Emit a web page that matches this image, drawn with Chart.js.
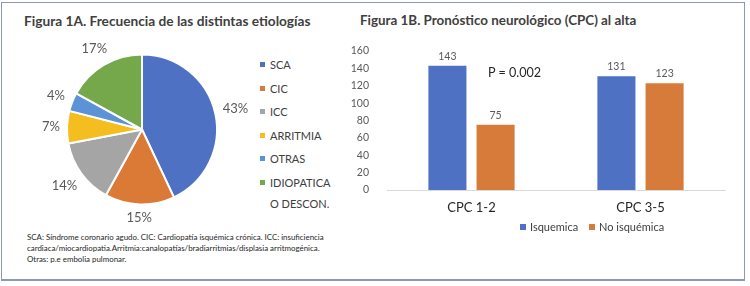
<!DOCTYPE html>
<html><head><meta charset="utf-8">
<script src="https://cdn.jsdelivr.net/npm/chart.js@4/dist/chart.umd.min.js"></script>
<style>
html,body{margin:0;padding:0;background:#fff;}
#wrap{position:relative;width:750px;height:286px;overflow:hidden;font-family:Lato,"Open Sans",sans-serif;}
#frame{position:absolute;left:1px;top:2px;width:744px;height:279px;border:1px solid #8e97b3;border-bottom:2px solid #8e97b3;box-sizing:border-box;}
.title{position:absolute;font-weight:bold;color:#404040;white-space:nowrap;}
#pieCv{position:absolute;left:30px;top:30px;}
#barCv{position:absolute;left:340px;top:30px;}
.leg{position:absolute;font-size:11px;color:#404040;line-height:13px;white-space:nowrap;}
.leg i{position:absolute;width:5px;height:5px;}
#note{position:absolute;left:27px;top:232px;font-size:7.9px;line-height:11px;color:#262626;white-space:nowrap;}
#pval{position:absolute;left:488px;top:65px;font-size:12.6px;color:#262626;white-space:nowrap;}
</style></head><body>
<div id="wrap">
<div id="frame"></div>
<div class="title" style="left:24px;top:12px;font-size:13.7px;">Figura 1A. Frecuencia de las distintas etiologías</div>
<div class="title" style="left:360px;top:12px;font-size:13.4px;">Figura 1B. Pronóstico neurológico (CPC) al alta</div>
<canvas id="pieCv" width="230" height="200"></canvas>
<canvas id="barCv" width="395" height="200"></canvas>
<div id="pieLeg"></div>
<div id="barLeg"></div>
<div id="pval">P = 0.002</div>
<div id="note">SCA: Síndrome coronario agudo. CIC: Cardiopatía isquémica crónica. ICC: insuficiencia<br>cardiaca/miocardiopatia.Arritmia:canalopatías/bradiarritmias/displasia arritmogénica.<br>Otras: p.e embolia pulmonar.</div>
</div>
<script>
// ---- data ----
const etiologyLabels = ["SCA", "CIC", "ICC", "ARRITMIA", "OTRAS", "IDIOPATICA O DESCON."];
const etiologyPercents = [43, 15, 14, 7, 4, 17];
const etiologyColors = ["#4E71C4", "#DA7A36", "#A5A5A5", "#F5BE1F", "#5B93D6", "#74A84A"];

const cpcCategories = ["CPC 1-2", "CPC 3-5"];
const isquemica = [143, 131];
const noIsquemica = [75, 123];
const seriesNames = ["Isquemica", "No isquémica"];
const seriesColors = ["#4E71C4", "#D67B39"];
const yTicks = [0, 20, 40, 60, 80, 100, 120, 140, 160];

const FONT = 'Lato, "Open Sans", sans-serif';

// ---- pie ----
const pieLabelPlugin = {
  id: 'pieLabels',
  afterDatasetsDraw(chart) {
    const ctx = chart.ctx;
    const meta = chart.getDatasetMeta(0);
    ctx.save();
    ctx.font = '13px ' + FONT;
    ctx.fillStyle = '#595959';
    ctx.textAlign = 'center';
    ctx.textBaseline = 'middle';
    meta.data.forEach((arc, i) => {
      const p = arc.getProps(['x','y','startAngle','endAngle','outerRadius'], true);
      const mid = (p.startAngle + p.endAngle) / 2;
      const txt = etiologyPercents[i] + '%';
      const w = ctx.measureText(txt).width, h = 12;
      const c = Math.cos(mid), s = Math.sin(mid);
      const d = p.outerRadius + 7 + Math.abs(c) * w / 2 + Math.abs(s) * h / 2;
      ctx.fillText(txt, p.x + c * d, p.y + s * d);
    });
    ctx.restore();
  }
};

new Chart(document.getElementById('pieCv'), {
  type: 'pie',
  data: {
    labels: etiologyLabels,
    datasets: [{ data: etiologyPercents, backgroundColor: etiologyColors, borderColor: '#ffffff', borderWidth: 2 }]
  },
  options: {
    responsive: false, animation: false,
    layout: { padding: { left: 36, right: 42, top: 23.5, bottom: 24.5 } },
    plugins: { legend: { display: false }, tooltip: { enabled: false } }
  },
  plugins: [pieLabelPlugin]
});

// pie legend (HTML)
(function(){
  const el = document.getElementById('pieLeg');
  etiologyLabels.forEach((lab, i) => {
    const d = document.createElement('div');
    d.className = 'leg';
    d.style.left = '270px';
    d.style.top = (54 + i * 23.5) + 'px';
    const parts = lab === "IDIOPATICA O DESCON." ? "IDIOPATICA<br>O DESCON." : lab;
    d.innerHTML = '<i style="left:-10px;top:8px;background:' + etiologyColors[i] + '"></i>' + parts;
    d.style.lineHeight = '21px';
    el.appendChild(d);
  });
})();

// ---- bars ----
const barValuePlugin = {
  id: 'barValues',
  afterDatasetsDraw(chart) {
    const ctx = chart.ctx;
    ctx.save();
    ctx.font = '10.5px ' + FONT;
    ctx.fillStyle = '#595959';
    ctx.textAlign = 'center';
    ctx.textBaseline = 'bottom';
    chart.data.datasets.forEach((ds, di) => {
      chart.getDatasetMeta(di).data.forEach((bar, i) => {
        ctx.fillText(String(ds.data[i]), bar.x, bar.y - 4);
      });
    });
    ctx.restore();
  }
};

new Chart(document.getElementById('barCv'), {
  type: 'bar',
  data: {
    labels: cpcCategories,
    datasets: [
      { label: seriesNames[0], data: isquemica, backgroundColor: seriesColors[0], categoryPercentage: 0.57, barPercentage: 0.79 },
      { label: seriesNames[1], data: noIsquemica, backgroundColor: seriesColors[1], categoryPercentage: 0.57, barPercentage: 0.79 }
    ]
  },
  options: {
    responsive: false, animation: false,
    layout: { padding: { left: 0, right: 10, top: 21, bottom: 0 } },
    plugins: { legend: { display: false }, tooltip: { enabled: false } },
    scales: {
      x: {
        grid: { display: false },
        border: { display: true, color: '#d9d9d9', width: 1 },
        ticks: { font: { family: FONT, size: 13 }, color: '#262626', padding: 2 },
        afterFit: s => { s.height = 40; }
      },
      y: {
        min: 0, max: 160,
        grid: { display: false },
        border: { display: false },
        afterBuildTicks: s => { s.ticks = yTicks.map(v => ({ value: v })); },
        ticks: { font: { family: FONT, size: 10.5 }, color: '#595959', padding: 10 },
        afterFit: s => { s.width = 47; }
      }
    }
  },
  plugins: [barValuePlugin]
});

// bar legend (HTML)
(function(){
  const el = document.getElementById('barLeg');
  const lefts = [530, 599];
  seriesNames.forEach((n, i) => {
    const d = document.createElement('div');
    d.className = 'leg';
    d.style.left = lefts[i] + 'px';
    d.style.top = '220px';
    d.innerHTML = '<i style="left:-10px;top:4px;width:6px;height:6px;background:' + seriesColors[i] + '"></i>' + n;
    el.appendChild(d);
  });
})();
</script>
</body></html>
